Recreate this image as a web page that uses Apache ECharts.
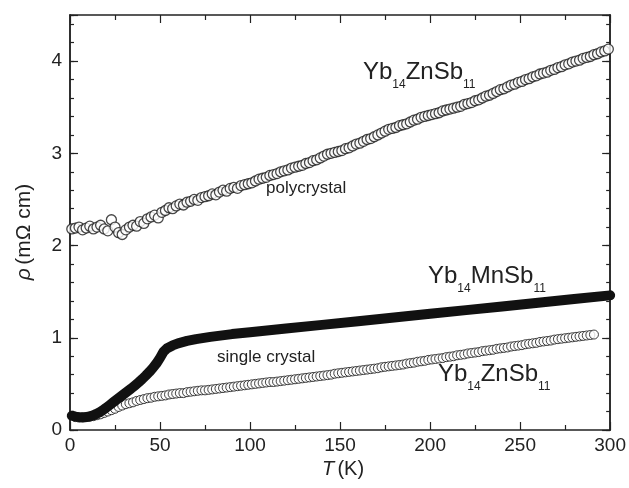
<!DOCTYPE html>
<html>
<head>
<meta charset="utf-8">
<script src="https://cdn.jsdelivr.net/npm/echarts@6/dist/echarts.min.js"></script>
<style>
  html, body { margin: 0; padding: 0; background: #fff; }
  #chart { width: 629px; height: 488px; }
</style>
</head>
<body>
<div id="chart"></div>
<script>
// Yb14ZnSb11 polycrystal
var polyT = [1, 3, 5, 7, 9, 11, 13, 15, 17, 19, 21, 23, 25, 27, 29, 31, 33, 35, 37, 39,
  41, 43, 45, 47, 49, 51, 53, 55, 57, 59, 61, 63, 65, 67, 69, 71, 73, 75, 77, 79,
  81, 83, 85, 87, 89, 91, 93, 95, 97, 99, 101, 103, 105, 107, 109, 111, 113, 115, 117, 119,
  121, 123, 125, 127, 129, 131, 133, 135, 137, 139, 141, 143, 145, 147, 149, 151, 153, 155, 157, 159,
  161, 163, 165, 167, 169, 171, 173, 175, 177, 179, 181, 183, 185, 187, 189, 191, 193, 195, 197, 199,
  201, 203, 205, 207, 209, 211, 213, 215, 217, 219, 221, 223, 225, 227, 229, 231, 233, 235, 237, 239,
  241, 243, 245, 247, 249, 251, 253, 255, 257, 259, 261, 263, 265, 267, 269, 271, 273, 275, 277, 279,
  281, 283, 285, 287, 289, 291, 293, 295, 297, 299];
var polyRho = [2.18, 2.19, 2.20, 2.17, 2.19, 2.21, 2.18, 2.20, 2.22, 2.18, 2.16, 2.28, 2.20, 2.14, 2.12, 2.17, 2.20, 2.22, 2.21, 2.26,
  2.24, 2.29, 2.31, 2.33, 2.30, 2.36, 2.38, 2.41, 2.40, 2.43, 2.45, 2.44, 2.47, 2.48, 2.50, 2.49, 2.52, 2.53, 2.54, 2.56,
  2.55, 2.58, 2.60, 2.59, 2.62, 2.63, 2.62, 2.65, 2.66, 2.67, 2.68, 2.70, 2.72, 2.73, 2.74, 2.76, 2.77, 2.78, 2.80, 2.81,
  2.82, 2.84, 2.85, 2.86, 2.87, 2.89, 2.90, 2.92, 2.93, 2.95, 2.97, 2.99, 3.00, 3.01, 3.02, 3.03, 3.05, 3.06, 3.08, 3.10,
  3.11, 3.13, 3.15, 3.16, 3.18, 3.20, 3.22, 3.24, 3.26, 3.27, 3.28, 3.30, 3.31, 3.32, 3.34, 3.36, 3.37, 3.39, 3.40, 3.41,
  3.42, 3.43, 3.44, 3.46, 3.47, 3.48, 3.49, 3.50, 3.51, 3.53, 3.54, 3.55, 3.57, 3.58, 3.60, 3.62, 3.63, 3.65, 3.67, 3.69,
  3.70, 3.72, 3.74, 3.75, 3.77, 3.78, 3.80, 3.81, 3.83, 3.84, 3.86, 3.87, 3.88, 3.90, 3.91, 3.93, 3.94, 3.96, 3.97, 3.99,
  4.00, 4.01, 4.03, 4.04, 4.05, 4.07, 4.08, 4.10, 4.11, 4.13];

// Yb14ZnSb11 single crystal
var znT = [3, 5, 7, 9, 11, 13, 15, 17, 19, 21, 23, 25, 27, 29, 31, 33, 35, 37, 39, 41,
  43, 45, 47, 49, 51, 53, 55, 57, 59, 61, 63, 65, 67, 69, 71, 73, 75, 77, 79, 81,
  83, 85, 87, 89, 91, 93, 95, 97, 99, 101, 103, 105, 107, 109, 111, 113, 115, 117, 119, 121,
  123, 125, 127, 129, 131, 133, 135, 137, 139, 141, 143, 145, 147, 149, 151, 153, 155, 157, 159, 161,
  163, 165, 167, 169, 171, 173, 175, 177, 179, 181, 183, 185, 187, 189, 191, 193, 195, 197, 199, 201,
  203, 205, 207, 209, 211, 213, 215, 217, 219, 221, 223, 225, 227, 229, 231, 233, 235, 237, 239, 241,
  243, 245, 247, 249, 251, 253, 255, 257, 259, 261, 263, 265, 267, 269, 271, 273, 275, 277, 279, 281,
  283, 285, 287, 289, 291];
var znRho = [0.14, 0.135, 0.135, 0.14, 0.145, 0.15, 0.16, 0.17, 0.185, 0.20, 0.215, 0.23, 0.25, 0.265, 0.28, 0.29, 0.30, 0.315, 0.325, 0.335,
  0.345, 0.35, 0.36, 0.365, 0.37, 0.375, 0.385, 0.39, 0.395, 0.40, 0.40, 0.41, 0.415, 0.42, 0.425, 0.43, 0.43, 0.435, 0.44, 0.445,
  0.45, 0.455, 0.46, 0.465, 0.47, 0.475, 0.48, 0.485, 0.49, 0.495, 0.50, 0.505, 0.51, 0.515, 0.52, 0.52, 0.525, 0.53, 0.535, 0.54,
  0.545, 0.55, 0.555, 0.56, 0.565, 0.57, 0.575, 0.58, 0.585, 0.59, 0.595, 0.60, 0.61, 0.615, 0.62, 0.625, 0.63, 0.635, 0.64, 0.645,
  0.65, 0.655, 0.66, 0.665, 0.67, 0.68, 0.685, 0.69, 0.695, 0.70, 0.705, 0.71, 0.72, 0.725, 0.73, 0.74, 0.745, 0.75, 0.76, 0.765,
  0.77, 0.775, 0.78, 0.79, 0.795, 0.80, 0.81, 0.815, 0.82, 0.83, 0.835, 0.84, 0.845, 0.855, 0.86, 0.865, 0.87, 0.88, 0.885, 0.89,
  0.895, 0.905, 0.91, 0.915, 0.92, 0.93, 0.935, 0.94, 0.945, 0.955, 0.96, 0.965, 0.97, 0.98, 0.985, 0.99, 0.995, 1.00, 1.005, 1.01,
  1.015, 1.02, 1.025, 1.03, 1.035];

// Yb14MnSb11 single crystal
var mnT = [1, 3, 6, 8, 10, 12, 14, 16, 18, 20, 22, 24, 26, 28, 30, 32, 34, 36, 38, 40,
  42, 44, 46, 48, 50, 52, 54, 57, 60, 65, 70, 78, 90, 100, 120, 140, 160, 180, 200, 220,
  240, 260, 280, 300];
var mnRho = [0.155, 0.145, 0.137, 0.137, 0.143, 0.153, 0.168, 0.188, 0.212, 0.24, 0.27, 0.30, 0.33, 0.36, 0.39, 0.42, 0.45, 0.482, 0.515, 0.55,
  0.588, 0.628, 0.672, 0.722, 0.782, 0.85, 0.887, 0.917, 0.94, 0.966, 0.986, 1.01, 1.04, 1.06, 1.10, 1.14, 1.18, 1.22, 1.26, 1.30,
  1.34, 1.38, 1.42, 1.46];

var xTicks = [0, 50, 100, 150, 200, 250, 300];
var yTicks = [0, 1, 2, 3, 4];

function pairs(xs, ys) {
  return xs.map(function (x, i) { return [x, ys[i]]; });
}

var ink = '#222';
var font = 'Liberation Sans, Arial, Helvetica, sans-serif';

function yAx(pos, step, len, labels) {
  return {
    type: 'value', position: pos, min: 0, max: 4.5, interval: step,
    axisLine: { show: true, onZero: false, lineStyle: { color: ink, width: 1.5 } },
    axisTick: { show: true, inside: true, length: len, lineStyle: { color: ink, width: 1.2 } },
    axisLabel: {
      show: labels, margin: 8, color: ink, fontSize: 19, fontFamily: font,
      formatter: function (v) { return yTicks.indexOf(v) >= 0 ? String(v) : ''; }
    },
    splitLine: { show: false }
  };
}

function xAx(pos, labels) {
  return {
    type: 'value', position: pos, min: 0, max: 300, interval: 50,
    axisLine: { show: true, onZero: false, lineStyle: { color: ink, width: 1.5 } },
    axisTick: { show: true, inside: true, length: 8, lineStyle: { color: ink, width: 1.2 } },
    minorTick: { show: true, splitNumber: 2, length: 5, lineStyle: { color: ink, width: 1.2 } },
    axisLabel: {
      show: labels, margin: 6, color: ink, fontSize: 19, fontFamily: font,
      formatter: function (v) { return xTicks.indexOf(v) >= 0 ? String(v) : ''; }
    },
    splitLine: { show: false }
  };
}

function formula(mid) {
  return '{a|Yb}{s|14}{a|' + mid + '}{s|11}';
}
var formulaRich = {
  a: { fontSize: 24, fontFamily: font, fill: ink, verticalAlign: 'bottom', padding: [0, 0, 7, 0] },
  s: { fontSize: 12, fontFamily: font, fill: ink, verticalAlign: 'bottom' }
};

var chart = echarts.init(document.getElementById('chart'));
chart.setOption({
  animation: false,
  backgroundColor: '#fff',
  grid: { left: 70, right: 18, top: 15, bottom: 58 },
  xAxis: [xAx('bottom', true), xAx('top', false)],
  yAxis: [yAx('left', 1, 8, true), yAx('left', 0.2, 4, false), yAx('right', 1, 8, false), yAx('right', 0.2, 4, false)],
  series: [
    {
      name: 'polycrystal', type: 'scatter', data: pairs(polyT, polyRho),
      symbol: 'circle', symbolSize: 10,
      itemStyle: { color: '#fff', borderColor: '#1a1a1a', borderWidth: 1.3 }
    },
    {
      name: 'Yb14ZnSb11 single crystal', type: 'scatter', data: pairs(znT, znRho),
      symbol: 'circle', symbolSize: 9,
      itemStyle: { color: '#fff', borderColor: '#111', borderWidth: 1 }
    },
    {
      name: 'Yb14MnSb11 single crystal', type: 'line', data: pairs(mnT, mnRho),
      smooth: false, symbol: 'none',
      lineStyle: { color: '#111', width: 10, cap: 'round', join: 'round' }
    }
  ],
  graphic: [
    { type: 'text', left: 363, top: 60, style: { text: formula('ZnSb'), rich: formulaRich } },
    { type: 'text', left: 428, top: 264, style: { text: formula('MnSb'), rich: formulaRich } },
    { type: 'text', left: 438, top: 362, style: { text: formula('ZnSb'), rich: formulaRich } },
    { type: 'text', left: 266, top: 180, style: { text: 'polycrystal', fontSize: 17, fontFamily: font, fill: ink } },
    { type: 'text', left: 217, top: 349, style: { text: 'single crystal', fontSize: 17, fontFamily: font, fill: ink } },
    {
      type: 'text', x: 24, y: 232, rotation: Math.PI / 2,
      style: {
        text: '{i|ρ} {n|(mΩ cm)}', align: 'center', verticalAlign: 'middle',
        rich: {
          i: { fontSize: 21, fontFamily: font, fontStyle: 'italic', fill: ink },
          n: { fontSize: 21, fontFamily: font, fill: ink }
        }
      }
    },
    {
      type: 'text', x: 343, y: 469,
      style: {
        text: '{i|T} {n|(K)}', align: 'center', verticalAlign: 'middle',
        rich: {
          i: { fontSize: 20, fontFamily: font, fontStyle: 'italic', fill: ink },
          n: { fontSize: 20, fontFamily: font, fill: ink }
        }
      }
    }
  ]
});
</script>
</body>
</html>
